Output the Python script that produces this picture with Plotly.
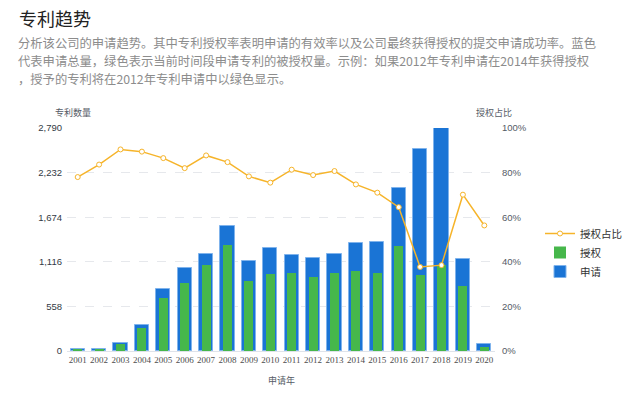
import plotly.graph_objects as go

years = [str(y) for y in range(2001, 2021)]
applications = [20, 30, 100, 325, 776, 1042, 1217, 1564, 1121, 1284, 1196, 1167,
                1213, 1351, 1367, 2034, 2522, 2790, 1155, 88]
grants = [15, 25, 90, 292, 667, 855, 1072, 1322, 880, 967, 971, 921,
          976, 1005, 971, 1309, 946, 1071, 808, 50]
grant_ratio = [0.780, 0.836, 0.904, 0.894, 0.865, 0.820, 0.877, 0.847, 0.783, 0.755,
               0.813, 0.789, 0.807, 0.747, 0.710, 0.645, 0.377, 0.385, 0.701, 0.563]
left_ticks = [0, 558, 1116, 1674, 2232, 2790]
left_ticktext = ["0", "558", "1,116", "1,674", "2,232", "2,790"]

W, H = 629, 393
L, R, T, B = 67, 495, 128, 351

def px(x):
    return (x - L) / (R - L)

def py(y):
    return (B - y) / (B - T)

CJK = "Noto Sans CJK SC"
fig = go.Figure()

fig.add_trace(go.Bar(
    x=years, y=applications, name="申请", width=0.66,
    marker=dict(color="#1a74d5", line=dict(color="#7fb3ec", width=1)),
    legendrank=3, yaxis="y",
))
fig.add_trace(go.Bar(
    x=years, y=grants, name="授权", width=0.42,
    marker=dict(color="#46b74b", line=dict(width=0)),
    legendrank=2, yaxis="y",
))
fig.add_trace(go.Scatter(
    x=years, y=grant_ratio, name="授权占比", yaxis="y2", mode="lines+markers",
    line=dict(color="#f6b42a", width=1.5),
    marker=dict(symbol="circle", size=5, color="white", line=dict(color="#f6b42a", width=1)),
    legendrank=1,
))

desc_lines = [
    "分析该公司的申请趋势。其中专利授权率表明申请的有效率以及公司最终获得授权的提交申请成功率。蓝色",
    "代表申请总量，绿色表示当前时间段申请专利的被授权量。示例：如果2012年专利申请在2014年获得授权",
    "，授予的专利将在2012年专利申请中以绿色显示。",
]

annotations = [
    dict(text="专利趋势", x=px(17), y=py(18), xanchor="left", yanchor="middle",
         font=dict(size=18, color="#222222", family=CJK)),
    dict(text="专利数量", x=px(73), y=py(112), xanchor="center", yanchor="middle",
         font=dict(size=9, color="#555b66", family=CJK)),
    dict(text="授权占比", x=px(494), y=py(112), xanchor="center", yanchor="middle",
         font=dict(size=9, color="#555b66", family=CJK)),
    dict(text="申请年", x=px(281), y=py(380), xanchor="center", yanchor="middle",
         font=dict(size=9, color="#555b66", family=CJK)),
]
for i, line in enumerate(desc_lines):
    annotations.append(dict(text=line, x=px(16), y=py(43 + 18 * i), xanchor="left", yanchor="middle",
                            font=dict(size=12.3, color="#8c8c8c", family=CJK)))
for a in annotations:
    a.update(xref="paper", yref="paper", showarrow=False)

fig.update_layout(
    width=W, height=H,
    margin=dict(l=L, r=W - R, t=T, b=H - B, pad=0, autoexpand=False),
    paper_bgcolor="white", plot_bgcolor="white",
    barmode="overlay", bargap=0,
    showlegend=True,
    legend=dict(x=px(540), y=py(219), xanchor="left", yanchor="top",
                font=dict(size=10.5, color="#333333", family=CJK),
                itemwidth=30, tracegroupgap=0, bgcolor="rgba(0,0,0,0)"),
    xaxis=dict(type="category", range=[-0.5, 19.5], showgrid=False, automargin=False,
               showline=True, linecolor="#dfe3ea", linewidth=1, ticks="", tickangle=0,
               tickfont=dict(family="Liberation Serif", size=9, color="#4d4d4d"),
               fixedrange=True),
    yaxis=dict(range=[0, 2790], tickvals=left_ticks, ticktext=left_ticktext, automargin=False,
               showgrid=True, gridcolor="#e6e8ec", griddash="dash", gridwidth=1,
               zeroline=False, showline=False, ticks="",
               tickfont=dict(family="Liberation Sans", size=9.5, color="#333a45"),
               ticklabelstandoff=4),
    yaxis2=dict(range=[0, 1], overlaying="y", side="right", tickvals=[0, 0.2, 0.4, 0.6, 0.8, 1.0],
                automargin=False,
                tickformat=".0%", showgrid=False, zeroline=False, showline=False, ticks="",
                tickfont=dict(family="Liberation Sans", size=9.5, color="#555b66"),
                ticklabelstandoff=6),
    annotations=annotations,
)

fig.write_html("out.html", config={"displayModeBar": False},
               post_script="document.body.style.margin='0';document.body.style.overflow='hidden';")
